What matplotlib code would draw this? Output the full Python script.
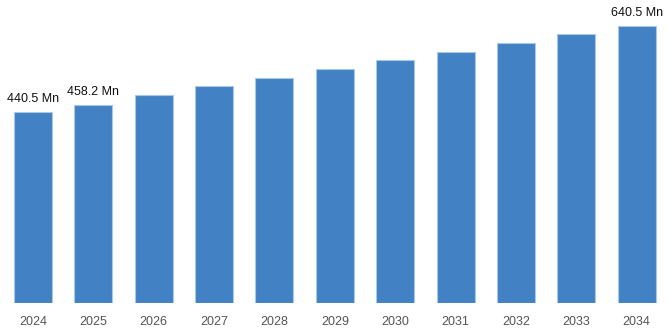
import matplotlib.pyplot as plt
import numpy as np

years = ["2024", "2025", "2026", "2027", "2028", "2029", "2030", "2031", "2032", "2033", "2034"]
values = [440.5, 458.2, 480.6, 501.3, 520.5, 540.6, 560.7, 580.5, 600.6, 620.7, 640.5]
labels = {0: "440.5 Mn", 1: "458.2 Mn", 10: "640.5 Mn"}

plt.rcParams['font.family'] = ['Liberation Sans', 'DejaVu Sans']

fig = plt.figure(figsize=(6.68, 3.34), dpi=100)
ax = fig.add_axes([0, 0.092, 1, 0.908])

x = np.arange(len(years))
ax.bar(x, values, width=0.63, color='#4282c4', edgecolor='#a8c8e8', linewidth=0.8)

for i, txt in labels.items():
    ax.annotate(txt, (x[i], values[i]), xytext=(0, 5), textcoords='offset points',
                ha='center', va='bottom', fontsize=9, color='#111111')

ax.set_xlim(-0.547, 10.52)
ax.set_ylim(0, 700)
ax.set_xticks(x)
ax.set_xticklabels(years, fontsize=9, color='#555555')
ax.tick_params(axis='x', length=0, pad=9)
ax.set_yticks([])
for s in ax.spines.values():
    s.set_visible(False)

fig.savefig("out.png", dpi=100)
